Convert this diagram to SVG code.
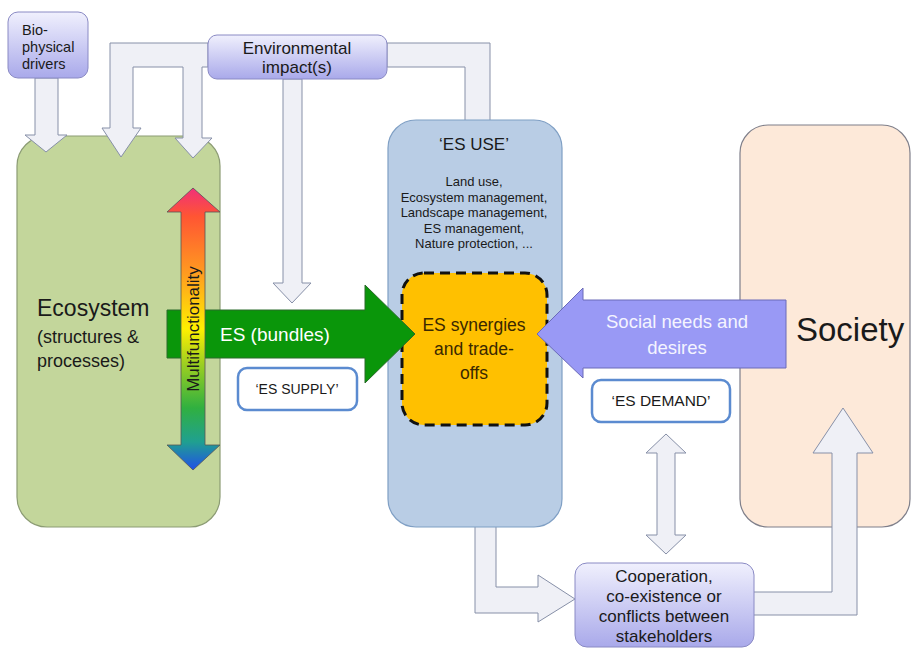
<svg xmlns="http://www.w3.org/2000/svg" width="912" height="648" viewBox="0 0 912 648">
<defs>
<linearGradient id="lav" x1="0" y1="0" x2="0" y2="1">
<stop offset="0" stop-color="#f0f0fd"/><stop offset="1" stop-color="#a9a9ea"/>
</linearGradient>
<linearGradient id="rainbow" x1="0" y1="188" x2="0" y2="470" gradientUnits="userSpaceOnUse">
<stop offset="0" stop-color="#f0307a"/>
<stop offset="0.1" stop-color="#ff5533"/>
<stop offset="0.3" stop-color="#ff9a20"/>
<stop offset="0.5" stop-color="#fff000"/>
<stop offset="0.62" stop-color="#a0d020"/>
<stop offset="0.78" stop-color="#30b040"/>
<stop offset="0.9" stop-color="#20a090"/>
<stop offset="1" stop-color="#2050e8"/>
</linearGradient>
</defs>
<style>
.flow{fill:#eff0f6;stroke:#8790a8;stroke-width:1}
.lav{fill:url(#lav);stroke:#8a8ac4;stroke-width:1}
.lbl{fill:#fff;stroke:#5b8bd0;stroke-width:2.5}
text{font-family:"Liberation Sans",Arial,sans-serif;fill:#1a1a1a}
.c{text-anchor:middle}
</style>
<g id="connectors">
<path class="flow" d="M387,43 L490,43 L490,121 L465,121 L465,67 L387,67 Z"/>
<path class="flow" d="M475,520 L496,520 L496,587 L538,587 L538,575 L575,599 L538,622 L538,613 L475,613 Z"/>
</g>
<g id="ecosystem">
<rect x="17" y="136" width="203" height="391" rx="30" fill="#c3d69b" stroke="#8c9c74" stroke-width="1.2"/>
<text x="37" y="316" font-size="23">Ecosystem</text>
<text x="37" y="343" font-size="18">(structures  &amp;</text>
<text x="37" y="367" font-size="18">processes)</text>
</g>
<g id="es-use">
<rect x="388" y="120" width="174" height="407" rx="28" fill="#b9cde5" stroke="#7f9fc4" stroke-width="1.2"/>
<text class="c" x="474" y="150" font-size="17">‘ES USE’</text>
<text class="c" x="474" y="186" font-size="13">Land use,</text>
<text class="c" x="474" y="201.5" font-size="13">Ecosystem management,</text>
<text class="c" x="474" y="217" font-size="13">Landscape management,</text>
<text class="c" x="474" y="232.5" font-size="13">ES management,</text>
<text class="c" x="474" y="248" font-size="13">Nature protection, ...</text>
</g>
<g id="society">
<rect x="740" y="125" width="170" height="402" rx="28" fill="#fde9d9" stroke="#7f7f8a" stroke-width="1.2"/>
<text x="796" y="341" font-size="33">Society</text>
</g>
<g id="synergies">
<rect x="402" y="273" width="145" height="152" rx="22" fill="#ffc000" stroke="#111" stroke-width="3" stroke-dasharray="10,6"/>
<text class="c" x="474" y="331" font-size="17.5" style="fill:#3a2800">ES synergies</text>
<text class="c" x="474" y="355" font-size="17.5" style="fill:#3a2800">and trade-</text>
<text class="c" x="474" y="379" font-size="17.5" style="fill:#3a2800">offs</text>
</g>
<g id="connectors-front">
<path class="flow" d="M35,78 L58,78 L58,135 L67,135 L46,152 L25,135 L35,135 Z"/>
<path class="flow" d="M208,43 L110,43 L110,128 L102,128 L121,157 L141,128 L133,128 L133,67 L183,67 L183,138 L175,138 L193,158 L212,138 L202,138 L202,67 L208,67 Z"/>
<path class="flow" d="M283,79 L302,79 L302,283 L311,283 L292,303 L273,283 L283,283 Z"/>
<path class="flow" d="M666,434 L686,453 L675,453 L675,535 L686,535 L666,554 L646,535 L657,535 L657,453 L646,453 Z"/>
<path class="flow" d="M750,592 L832,592 L832,453 L813,453 L843,408 L873,453 L857,453 L857,615 L750,615 Z"/>
</g>
<g id="es-bundles">
<path d="M167,310 L365,310 L365,285 L415,334 L365,383 L365,358 L167,358 Z" fill="#0a960a" stroke="#2a6a2a" stroke-width="1"/>
<text x="220" y="341" font-size="19" style="fill:#ffffff">ES (bundles)</text>
</g>
<g id="multifunctionality">
<path d="M193,188 L220,212 L205,212 L205,445 L220,445 L193,470 L167,445 L181,445 L181,212 L167,212 Z" fill="url(#rainbow)" stroke="#555" stroke-width="0.8"/>
<text class="c" x="0" y="0" font-size="17" transform="translate(199,329) rotate(-90)">Multifunctionality</text>
</g>
<g id="social-needs">
<path d="M786,300 L583,300 L583,288 L537,334 L583,378 L583,368 L786,368 Z" fill="#9999f5" stroke="#6a6ab8" stroke-width="1"/>
<text class="c" x="677" y="328" font-size="18.5" style="fill:#f4f4ff">Social needs and</text>
<text class="c" x="677" y="354" font-size="18.5" style="fill:#f4f4ff">desires</text>
</g>
<g id="biophysical">
<rect x="8" y="12" width="80" height="66" rx="10" class="lav"/>
<text x="22" y="35" font-size="14.5">Bio-</text>
<text x="22" y="52" font-size="14.5">physical</text>
<text x="22" y="69" font-size="14.5">drivers</text>
</g>
<g id="env-impact">
<rect x="208" y="35" width="179" height="44" rx="9" class="lav"/>
<text class="c" x="297" y="54" font-size="17">Environmental</text>
<text class="c" x="297" y="73" font-size="17">impact(s)</text>
</g>
<g id="es-supply">
<rect x="238" y="368" width="119" height="42" rx="9" class="lbl"/>
<text class="c" x="297" y="394" font-size="14">‘ES SUPPLY’</text>
</g>
<g id="es-demand">
<rect x="592" y="380" width="138" height="42" rx="9" class="lbl"/>
<text class="c" x="661" y="406" font-size="15.5">‘ES DEMAND’</text>
</g>
<g id="cooperation">
<rect x="575" y="563" width="179" height="84" rx="12" class="lav"/>
<text class="c" x="664" y="582" font-size="17">Cooperation,</text>
<text class="c" x="664" y="602" font-size="17">co-existence or</text>
<text class="c" x="664" y="622" font-size="17">conflicts between</text>
<text class="c" x="664" y="642" font-size="17">stakeholders</text>
</g>
</svg>
